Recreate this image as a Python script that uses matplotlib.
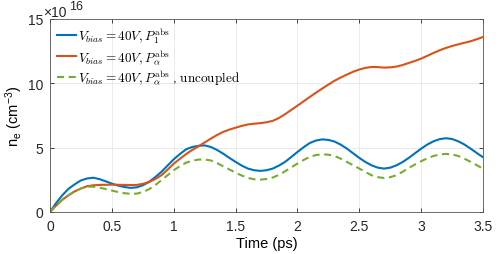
import numpy as np
import matplotlib.pyplot as plt
from matplotlib.ticker import FormatStrFormatter

plt.rcParams['font.family'] = ['Liberation Sans', 'DejaVu Sans']
plt.rcParams['mathtext.fontset'] = 'cm'

# time (ps), sampled every 0.05 ps
t = np.round(np.arange(0, 3.501, 0.05), 2)

# n_e in units of 1e16 cm^-3
ne_p1 = [0.0, 0.7, 1.3, 1.8, 2.15, 2.45, 2.6, 2.66, 2.55, 2.38,
         2.2, 2.05, 1.94, 1.87, 1.91, 2.07, 2.33, 2.7, 3.11, 3.6,
         4.09, 4.5, 4.87, 5.05, 5.14, 5.17, 5.05, 4.82, 4.53, 4.2,
         3.89, 3.6, 3.37, 3.24, 3.19, 3.24, 3.37, 3.6, 3.89, 4.27,
         4.66, 5.03, 5.36, 5.55, 5.64, 5.6, 5.47, 5.23, 4.92, 4.56,
         4.2, 3.88, 3.62, 3.44, 3.37, 3.44, 3.62, 3.88, 4.2, 4.56,
         4.92, 5.24, 5.49, 5.66, 5.73, 5.67, 5.49, 5.24, 4.92, 4.58,
         4.25]
ne_pa = [0.0, 0.5, 0.95, 1.3, 1.6, 1.82, 2.0, 2.07, 2.1, 2.11,
         2.12, 2.11, 2.1, 2.09, 2.1, 2.18, 2.33, 2.55, 2.85, 3.28,
         3.75, 4.13, 4.5, 4.82, 5.1, 5.4, 5.7, 5.98, 6.22, 6.4,
         6.55, 6.69, 6.8, 6.86, 6.9, 6.97, 7.08, 7.3, 7.6, 7.93,
         8.26, 8.6, 8.94, 9.27, 9.59, 9.9, 10.2, 10.45, 10.68, 10.9,
         11.07, 11.2, 11.27, 11.26, 11.22, 11.24, 11.3, 11.42, 11.58, 11.74,
         11.92, 12.14, 12.36, 12.57, 12.75, 12.9, 13.03, 13.15, 13.27, 13.43,
         13.6]
ne_unc = [0.0, 0.5, 0.95, 1.3, 1.6, 1.82, 1.97, 1.96, 1.89, 1.78,
          1.66, 1.55, 1.46, 1.41, 1.42, 1.55, 1.76, 2.08, 2.46, 2.85,
          3.24, 3.56, 3.83, 3.98, 4.07, 4.08, 4.0, 3.8, 3.55, 3.3,
          3.06, 2.83, 2.64, 2.54, 2.51, 2.56, 2.67, 2.88, 3.16, 3.46,
          3.76, 4.04, 4.28, 4.42, 4.48, 4.45, 4.35, 4.14, 3.89, 3.63,
          3.37, 3.1, 2.85, 2.7, 2.64, 2.7, 2.85, 3.12, 3.42, 3.69,
          3.94, 4.17, 4.35, 4.47, 4.51, 4.47, 4.35, 4.14, 3.89, 3.63,
          3.37]

labels = [r'$V_{bias} = 40V, P_1^{\rm abs}$',
          r'$V_{bias} = 40V, P_\alpha^{\rm abs}$',
          r'$V_{bias} = 40V, P_\alpha^{\rm abs}$ , $\rm uncoupled$']

fig = plt.figure(figsize=(4.98, 2.55), dpi=100)
ax = fig.add_axes([0.1004, 0.165, 0.8695, 0.7566])

ax.plot(t, ne_p1, '-', color='#0072BD', lw=1.5, label=labels[0])
ax.plot(t, ne_pa, '-', color='#D95319', lw=1.5, label=labels[1])
ax.plot(t, ne_unc, '--', color='#77AC30', lw=1.5, dashes=(3.4, 2.2), label=labels[2])

ax.set_xlim(0, 3.5)
ax.set_ylim(0, 15)
ax.set_xticks(np.arange(0, 3.51, 0.5))
ax.set_yticks([0, 5, 10, 15])
ax.xaxis.set_major_formatter(FormatStrFormatter('%g'))
ax.grid(True, color='#e8e8e8', lw=0.6)
ax.set_axisbelow(True)
ax.tick_params(direction='in', top=True, right=True, length=3, width=0.6,
               colors='#262626', labelsize=10, pad=5)
for s in ax.spines.values():
    s.set_color('#555555')
    s.set_linewidth(0.6)

ax.set_xlabel('Time (ps)', fontsize=10.5, labelpad=2)
ax.set_ylabel(r'$\mathregular{n_e\ (cm^{-3})}$', fontsize=10.5, labelpad=2)
# exponent label like MATLAB's
ax.text(-0.016, 1.0155, '\u00d710', transform=ax.transAxes,
        fontsize=10, ha='left', va='baseline', color='#262626')
ax.text(0.044, 1.05, '16', transform=ax.transAxes,
        fontsize=9, ha='left', va='baseline', color='#262626')

ax.legend(loc='upper left', frameon=False, fontsize=9.5, handlelength=1.5,
          handletextpad=0.1, labelspacing=0.15, borderaxespad=0.2, borderpad=0.3)

fig.savefig('out.png', dpi=100)
